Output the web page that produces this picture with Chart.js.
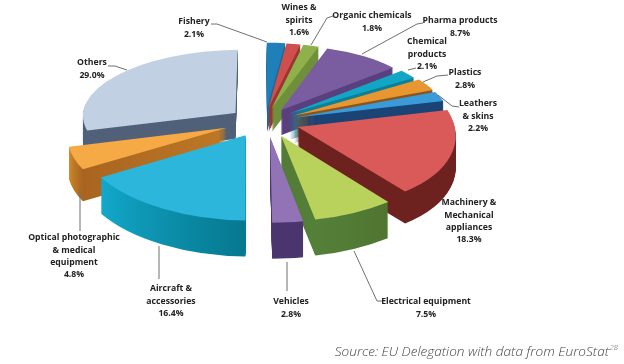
<!DOCTYPE html>
<html><head><meta charset="utf-8">
<style>html,body{margin:0;padding:0;background:#fff}canvas{display:block;filter:blur(0.35px)}</style>
<script src="https://cdn.jsdelivr.net/npm/chart.js@4/dist/chart.umd.min.js"></script>
</head><body><canvas id="c" width="624" height="364"></canvas>
<script>
const categories = ["Fishery","Wines &\nspirits","Organic chemicals","Pharma products","Chemical\nproducts","Plastics","Leathers\n& skins","Machinery &\nMechanical\nappliances","Electrical equipment","Vehicles","Aircraft &\naccessories","Optical photographic\n& medical\nequipment","Others"];
const shares = [2.1,1.6,1.8,8.7,2.1,2.8,2.2,18.3,7.5,2.8,16.4,4.8,29.0];
const topColors = ["#1f7fb8","#cf4f4d","#8fb14b","#7a5ca0","#12a6c6","#e8962f","#3a9bd9","#d95a58","#b8d25c","#9274b6","#2db6dc","#f5aa45","#c2d0e4"];
const sideStart = ["#1a6a9e","#9c3432","#6f8f3a","#5a3f7f","#0c7f99","#8a5520","#1b4476","#6e2220","#4f752f","#4b356e","#06788f","#a8641f","#4f6078"];
const sideEnd   = ["#1a6a9e","#9c3432","#6f8f3a","#5a3f7f","#0c7f99","#8a5520","#1b4476","#6e2220","#55803a","#4b356e","#12a8ca","#d08a2c","#4f6078"];
const explode = [.2,.2,.2,.2,.2,.2,.2,.2,.2,.2,.2,.2,.2];
const shiftX = [-3,-5,-5,-5,-4,-2,-2,0,0,-1,-7,-12,-8];
const reach = [1,1,1,1,1,1,1,1,1,1,1,1,.96];
const labelAnchors = [[194,22],[299,8],[372,16],[460,21],[427,42],[465,73],[478,104],[469,203],[426,302],[291,302],[171,289],[74,238],[92,63]];
const leaders = [
 [[211,24],[217,24],[267,42]],[],
 [[333,16],[327,18],[311,45]],
 [[423,23],[417,24],[362,54]],
 [[416,68],[408,70]],
 [[448,75],[437,76],[423,82]],
 [[459,107],[452,106],[438,95]],
 [],
 [[382,301],[377,301],[354,251]],
 [[287,262],[287,291]],
 [[159,246],[159,279]],
 [[80,190],[80,231]],
 [[108,66],[115,66],[127,70]]
];
const view = {cx:268, cy:122, sx:157, sy:74, tilt:0.1, depth:30, depthTilt:8};
const sourceText = "Source: EU Delegation with data from EuroStat";

function affine(s, d){
  const [a,b,c]=s,[A,B,C]=d;
  const det=(b[0]-a[0])*(c[1]-a[1])-(c[0]-a[0])*(b[1]-a[1]);
  const m=(i)=>{
    const p=((B[i]-A[i])*(c[1]-a[1])-(C[i]-A[i])*(b[1]-a[1]))/det;
    const q=((C[i]-A[i])*(b[0]-a[0])-(B[i]-A[i])*(c[0]-a[0]))/det;
    return [p,q,A[i]-p*a[0]-q*a[1]];
  };
  const X=m(0),Y=m(1);
  return [X[0],Y[0],X[1],Y[1],X[2],Y[2]];
}
const pie3d = {
  id:'pie3d',
  beforeDatasetsDraw(chart){
    const ctx=chart.ctx, meta=chart.getDatasetMeta(0);
    const items=meta.data.map((el,i)=>({el,i,mid:(el.startAngle+el.endAngle)/2}));
    items.sort((a,b)=>Math.sin(a.mid)-Math.sin(b.mid));
    for(const {el,i,mid} of items){
      const r=el.outerRadius, e=explode[i]*r;
      const ex=e*Math.cos(mid), ey=e*Math.sin(mid);
      const src=[[el.x,el.y],
        [el.x+r*Math.cos(el.startAngle),el.y+r*Math.sin(el.startAngle)],
        [el.x+r*Math.cos(el.endAngle),el.y+r*Math.sin(el.endAngle)]];
      const proj=(x,y)=>{
        const u=(x-el.x)/r, v=-(y-el.y)/r, w=1+view.tilt*v;
        return [view.cx+shiftX[i]+view.sx*u/w, view.cy-view.sy*v/w];
      };
      const dst=src.map(p=>proj(el.x+ex+(p[0]-el.x)*reach[i],el.y+ey+(p[1]-el.y)*reach[i]));
      const t=affine(src,dst);
      const vm=Math.sin(-mid)*(explode[i]+.6);
      const depth=Math.round(view.depth-view.depthTilt*vm);
      const grad=ctx.createLinearGradient(src[1][0],src[1][1],src[2][0],src[2][1]);
      grad.addColorStop(0,sideStart[i]); grad.addColorStop(1,sideEnd[i]);
      const paint=(color,dy)=>{
        const shim=Object.create(el);
        shim.options=Object.assign({},el.options,{backgroundColor:color,borderWidth:0,offset:0});
        ctx.save();
        ctx.setTransform(t[0],t[1],t[2],t[3],t[4],t[5]+dy);
        el.draw.call(shim,ctx);
        ctx.restore();
      };
      for(let d=depth;d>0;d--) paint(grad,d);
      paint(topColors[i],0);
    }
    return false;
  },
  afterDraw(chart){
    const ctx=chart.ctx;
    ctx.save();
    ctx.strokeStyle="#6f6f6f"; ctx.lineWidth=1;
    leaders.forEach(l=>{ if(!l.length) return; ctx.beginPath(); l.forEach((p,i)=>i?ctx.lineTo(p[0],p[1]):ctx.moveTo(p[0],p[1])); ctx.stroke(); });
    ctx.fillStyle="#222"; ctx.textAlign="center"; ctx.textBaseline="middle";
    ctx.font="700 8.7px 'Open Sans'";
    categories.forEach((c,i)=>{
      const lines=c.split("\n").concat(shares[i].toFixed(1)+"%");
      lines.forEach((s,k)=>ctx.fillText(s,labelAnchors[i][0],labelAnchors[i][1]+k*12.3));
    });
    ctx.fillStyle="#444"; ctx.textAlign="right";
    ctx.font="italic 300 13.6px 'Open Sans'";
    ctx.fillText(sourceText,609,352);
    ctx.font="italic 300 8px 'Open Sans'";
    ctx.fillText("28",618,348);
    ctx.restore();
  }
};
new Chart(document.getElementById('c'),{
  type:'pie',
  data:{labels:categories,datasets:[{data:shares,backgroundColor:topColors,borderWidth:0}]},
  options:{responsive:false,animation:false,events:[],layout:{padding:0},
    plugins:{legend:{display:false},tooltip:{enabled:false}}},
  plugins:[pie3d]
});
</script></body></html>
